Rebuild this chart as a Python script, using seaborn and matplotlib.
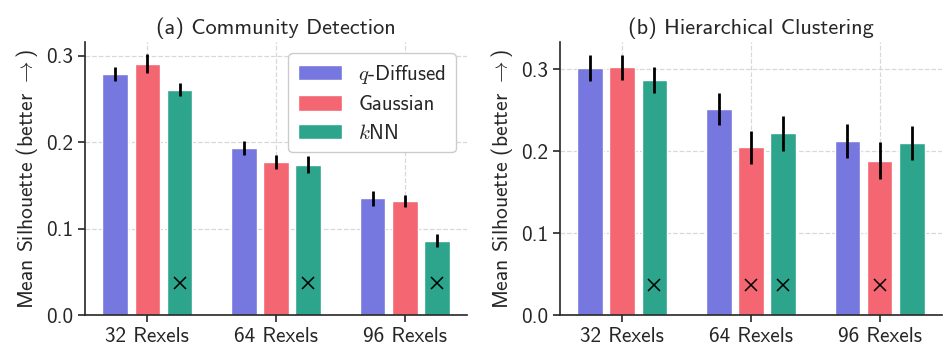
import numpy as np
import pandas as pd
import matplotlib
matplotlib.use("Agg")
import matplotlib.pyplot as plt
import seaborn as sns

### values
rexels = ["32 Rexels", "64 Rexels", "96 Rexels"]
methods = [r"$q$-Diffused", "Gaussian", r"$k$NN"]
colors = ["#7777e0", "#f36672", "#2ca58c"]

# (a) community detection: rows = methods, cols = rexels
comm_mean = [[0.279, 0.193, 0.135],
             [0.291, 0.177, 0.132],
             [0.261, 0.174, 0.086]]
comm_err = [[0.0085, 0.008, 0.009],
            [0.011, 0.008, 0.007],
            [0.008, 0.0095, 0.0077]]
comm_fail = [[0, 0, 0],
             [0, 0, 0],
             [1, 1, 1]]

# (b) hierarchical clustering
hier_mean = [[0.301, 0.251, 0.212],
             [0.302, 0.2045, 0.188],
             [0.2865, 0.2215, 0.2095]]
hier_err = [[0.016, 0.0197, 0.021],
            [0.015, 0.020, 0.0225],
            [0.016, 0.021, 0.021]]
hier_fail = [[0, 0, 0],
             [0, 1, 1],
             [1, 1, 0]]

sns.set_style("ticks")
plt.rcParams['font.family'] = ['cmss10', 'DejaVu Sans']
plt.rcParams['mathtext.fontset'] = 'cm'
plt.rcParams['axes.formatter.use_mathtext'] = True
plt.rcParams['axes.unicode_minus'] = False


def to_long(mean):
    rows = []
    for i, m in enumerate(methods):
        for j, r in enumerate(rexels):
            rows.append({"rexels": r, "method": m, "score": mean[i][j]})
    return pd.DataFrame(rows)


def panel(ax, mean, err, fail, title, ylim, legend):
    dfx = to_long(mean)
    sns.barplot(data=dfx, x="rexels", y="score", hue="method", palette=colors,
                errorbar=None, width=0.75, gap=0.2, saturation=1, ax=ax,
                legend=legend, zorder=2)
    bars = list(ax.containers)
    for i, cont in enumerate(bars):
        xs = [p.get_x() + p.get_width() / 2 for p in cont.patches]
        hs = [p.get_height() for p in cont.patches]
        ax.errorbar(xs, hs, yerr=err[i], fmt='none', ecolor='black',
                    elinewidth=2, capsize=0, zorder=3)
        for j, x in enumerate(xs):
            if fail[i][j]:
                ax.plot(x, 0.037, marker='x', color='black', markersize=9,
                        mew=1.1, zorder=4)
    ax.set_ylim(*ylim)
    ax.set_yticks([0.0, 0.1, 0.2, 0.3])
    ax.set_yticklabels(["0.0", "0.1", "0.2", "0.3"])
    ax.set_xlabel("")
    ax.set_ylabel(r"Mean Silhouette (better $\rightarrow$)", fontsize=15.5)
    ax.set_title(title, fontsize=16)
    ax.tick_params(labelsize=15.3, length=5, width=1.2)
    for s in ax.spines.values():
        s.set_linewidth(1.2)
    ax.grid(True, linestyle='--', color='#d8d8d8', linewidth=0.9, zorder=0)
    ax.set_axisbelow(True)
    sns.despine(ax=ax)
    if legend:
        ax.legend(loc='upper right', fontsize=15, handlelength=2.1,
                  handleheight=0.75, borderpad=0.45, labelspacing=0.45,
                  handletextpad=0.8, borderaxespad=0.55,
                  framealpha=1, edgecolor='#cccccc', title=None)


fig, axes = plt.subplots(1, 2, figsize=(9.49, 3.47), dpi=100)
panel(axes[0], comm_mean, comm_err, comm_fail, "(a) Community Detection",
      (0, 0.316), True)
panel(axes[1], hier_mean, hier_err, hier_fail, "(b) Hierarchical Clustering",
      (0, 0.333), False)
fig.subplots_adjust(left=0.0896, right=0.9926, bottom=0.092, top=0.879, wspace=0.243)
fig.savefig("out.png", dpi=100)
